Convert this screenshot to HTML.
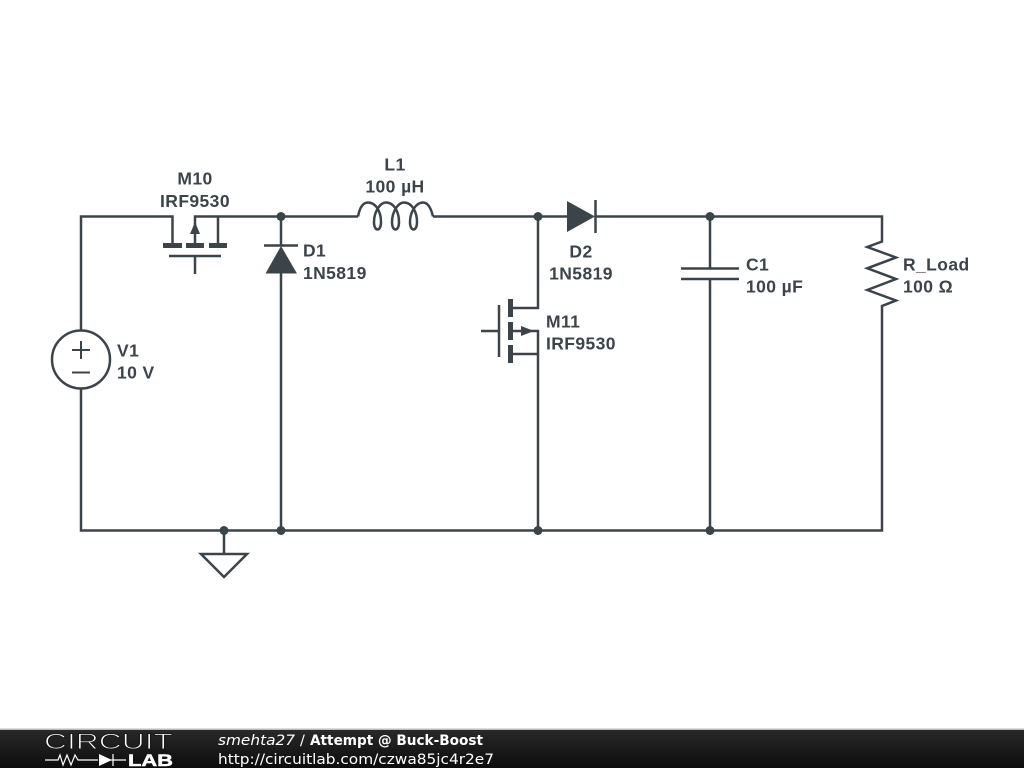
<!DOCTYPE html>
<html><head><meta charset="utf-8"><style>
html,body{margin:0;padding:0;background:#fff;width:1024px;height:768px;overflow:hidden}
svg{display:block}
.l{font:bold 17.5px "Liberation Sans",sans-serif;letter-spacing:.4px;fill:#3b4449}
.w{fill:none;stroke:#3b4449;stroke-width:2.5;stroke-linejoin:miter}
.f{font:14.4px "DejaVu Sans",sans-serif;fill:#fff}
</style></head><body>
<svg width="1024" height="768" viewBox="0 0 1024 768" xmlns="http://www.w3.org/2000/svg">
<defs><linearGradient id="g" x1="0" y1="0" x2="0" y2="1"><stop offset="0" stop-color="#2a2a2a"/><stop offset="1" stop-color="#0c0c0c"/></linearGradient></defs>
<rect width="1024" height="768" fill="#fff"/>
<!-- wires -->
<path class="w" d="M81 331V216.5H172.5V245"/>
<path class="w" d="M195 245V216.5H358"/>
<path class="w" d="M218 216.5V245"/>
<path class="w" d="M433 216.5H568"/>
<path class="w" d="M595 216.5H882V241.5L867.3 247L896 257.5L867.3 268.3L896 279L867.3 290L896 300.5L882 306V530.5H81V388"/>
<path class="w" d="M281 216.5V246"/>
<path class="w" d="M281 272V530.5"/>
<path class="w" d="M538 216.5V308H510"/>
<path class="w" d="M510 331H538V530.5"/>
<path class="w" d="M510 354H538"/>
<path class="w" d="M710 216.5V268"/>
<path class="w" d="M710 279V530.5"/>
<path class="w" d="M224 530.5V554"/>
<!-- ground -->
<path class="w" d="M201 554H247L224 577Z" style="fill:#fff"/>
<!-- V1 -->
<circle class="w" cx="81" cy="359.5" r="29"/>
<path class="w" d="M72 350H90M81 341V359M72 372.5H90" style="stroke-width:2"/>
<!-- M10 -->
<g fill="#3b4449">
<rect x="163" y="243" width="19" height="5"/><rect x="186" y="243" width="18" height="5"/><rect x="209" y="243" width="18" height="5"/>
<path d="M195 222L200 234H190Z"/>
</g>
<path class="w" d="M169 256H221M195 256V274"/>
<!-- D1 -->
<path class="w" d="M264 245.5H298"/>
<path d="M281 246L297 273.5H265.5Z" fill="#3b4449"/>
<!-- D2 -->
<path d="M567 201L595 216.5L567 232Z" fill="#3b4449"/>
<path class="w" d="M595.5 200V233"/>
<!-- L1 -->
<path class="w" d="M358 216.5C360 206 364 202.5 368 202.5C376 202.5 381 212 381 222C381 232 374 232 374 222C374 212 380 202.5 386 202.5C394 202.5 399 212 399 222C399 232 392 232 392 222C392 212 398 202.5 404 202.5C412 202.5 417 212 417 222C417 232 410 232 410 222C410 212 416 202.5 423 202.5C428 202.5 431 208 433 216.5"/>
<!-- M11 -->
<g fill="#3b4449">
<rect x="508" y="299" width="5" height="18"/><rect x="508" y="322" width="5" height="18"/><rect x="508" y="345" width="5" height="18"/>
<path d="M521 326L534 331L521 336Z"/>
</g>
<path class="w" d="M499 305V357M481 331H499"/>
<!-- C1 -->
<path class="w" d="M681 268.5H739M681 279H739"/>
<!-- dots -->
<g fill="#3b4449">
<circle cx="281" cy="216.5" r="4.5"/><circle cx="538" cy="216.5" r="4.5"/><circle cx="710" cy="216.5" r="4.5"/>
<circle cx="224" cy="530.5" r="4.5"/><circle cx="281" cy="530.5" r="4.5"/><circle cx="538" cy="530.5" r="4.5"/><circle cx="710" cy="530.5" r="4.5"/>
</g>
<!-- labels -->
<text class="l" x="195" y="184.5" text-anchor="middle">M10</text>
<text class="l" x="195" y="207" text-anchor="middle">IRF9530</text>
<text class="l" x="395" y="170.5" text-anchor="middle">L1</text>
<text class="l" x="395" y="192.5" text-anchor="middle">100 µH</text>
<text class="l" x="303" y="256.500">D1</text>
<text class="l" x="303" y="279">1N5819</text>
<text class="l" x="581" y="257.500" text-anchor="middle">D2</text>
<text class="l" x="581" y="279.500" text-anchor="middle">1N5819</text>
<text class="l" x="546" y="327.500">M11</text>
<text class="l" x="546" y="349.500">IRF9530</text>
<text class="l" x="117" y="356.500">V1</text>
<text class="l" x="117" y="378.500">10 V</text>
<text class="l" x="746" y="270.500">C1</text>
<text class="l" x="746" y="292.500">100 µF</text>
<text class="l" x="903" y="270.500">R_Load</text>
<text class="l" x="903" y="292.500">100 Ω</text>
<!-- footer -->
<rect x="0" y="729" width="1024" height="39" fill="url(#g)"/>
<rect x="0" y="728.500" width="1024" height="1.500" fill="#bbb"/>
<text x="44" y="749" font-family="Liberation Sans,sans-serif" font-size="22.500" textLength="129" lengthAdjust="spacingAndGlyphs" fill="#fff" stroke="#1a1a1a" stroke-width="1">CIRCUIT</text>
<path d="M45 760H58L60 755L63 765L67 755L71 765L75 755L78 760H98M126 760H110M113 754V766" fill="none" stroke="#fff" stroke-width="1.200"/>
<path d="M99 754L112 760L99 766Z" fill="#fff"/>
<text x="128" y="766" font-family="Liberation Sans,sans-serif" font-size="17" font-weight="bold" textLength="45" lengthAdjust="spacingAndGlyphs" fill="#fff" stroke="#fff" stroke-width="0.5">LAB</text>
<text class="f" x="218" y="745" textLength="77" lengthAdjust="spacingAndGlyphs" font-style="italic" style="font-style:italic">smehta27</text>
<text class="f" x="300" y="745">/</text>
<text class="f" x="310" y="745" textLength="173" lengthAdjust="spacingAndGlyphs" style="font-weight:bold">Attempt @ Buck-Boost</text>
<text class="f" x="218" y="764" textLength="276" lengthAdjust="spacingAndGlyphs">http://circuitlab.com/czwa85jc4r2e7</text>
</svg>
</body></html>
